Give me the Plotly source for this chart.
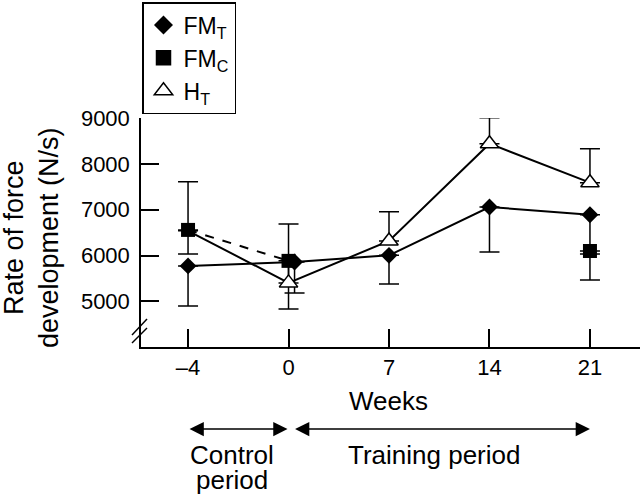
import plotly.graph_objects as go

# ---- data ----
weeks = ["\u20134", "0", "7", "14", "21"]
fm_t = [5775, 5860, 6005, 7060, 6890]
fm_t_err_minus = [875, 675, 625, 980, 855]
fm_c = [6560, 5885, None, None, 6100]
fm_c_err_minus = [525, 1050, None, None, 630]
h_t = [6540, 5405, 6320, 8440, 7590]
h_t_err_plus = [1070, 1285, 635, 565, 740]
y_ticks = [5000, 6000, 7000, 8000, 9000]
legend_names = ["FM<sub>T</sub>", "FM<sub>C</sub>", "H<sub>T</sub>"]

# ---- style / positions ----
FONT = "Liberation Sans, Arial, Helvetica, sans-serif"
pos = list(range(len(weeks)))
fm_t_dx = [0, 0.06, 0, 0, 0]          # small horizontal offset of FM_T at week 0
fm_t_pos = [p + d for p, d in zip(pos, fm_t_dx)]

W, H = 640, 496
L, R, T, B = 141, 0, 118, 149
pw, ph = W - L - R, H - T - B

def px(xp):
    return (xp - L) / pw

def py(yp):
    return (H - B - yp) / ph

fig = go.Figure()

# FM_C (dashed)
fig.add_trace(go.Scatter(
    x=pos, y=fm_c, mode="lines+markers", showlegend=False,
    line=dict(color="black", width=2, dash="dash"),
    marker=dict(symbol="square", size=14, color="black"),
    error_y=dict(type="data", symmetric=False,
                 array=[0] * len(fm_c),
                 arrayminus=fm_c_err_minus, color="black", thickness=1.5, width=10),
))
# FM_T
fig.add_trace(go.Scatter(
    x=fm_t_pos, y=fm_t, mode="lines+markers", showlegend=False,
    line=dict(color="black", width=2),
    marker=dict(symbol="diamond", size=13, color="black"),
    error_y=dict(type="data", symmetric=False, array=[0] * len(fm_t),
                 arrayminus=fm_t_err_minus, color="black", thickness=1.5, width=10),
))
# H_T
fig.add_trace(go.Scatter(
    x=pos, y=h_t, mode="lines+markers", showlegend=False,
    line=dict(color="black", width=2),
    marker=dict(symbol="triangle-up", size=[0, 16, 16, 16, 16], color="#ffffff",
                opacity=1, line=dict(color="black", width=1.5)),
    error_y=dict(type="data", symmetric=False, array=h_t_err_plus,
                 arrayminus=[0] * len(h_t), color="black", thickness=1.5, width=10),
))

# legend-only traces
for name, sym, size, col in zip(legend_names,
                                ["diamond", "square", "triangle-up"],
                                [13, 14, 16],
                                ["black", "black", "#ffffff"]):
    fig.add_trace(go.Scatter(
        x=[None], y=[None], mode="markers", name=name,
        marker=dict(symbol=sym, size=size, color=col, opacity=1,
                    line=dict(color="black", width=1.5)),
    ))

shapes = [
    dict(type="line", xref="paper", yref="paper",
         x0=px(132), y0=py(335), x1=px(147), y1=py(319), line=dict(color="black", width=1.5)),
    dict(type="line", xref="paper", yref="paper",
         x0=px(132), y0=py(343), x1=px(147), y1=py(328), line=dict(color="black", width=1.5)),
]

TXT = dict(size=27, family=FONT, color="black")
TXT2 = dict(size=26, family=FONT, color="black")
annotations = [
    dict(text="Rate of force<br>development (N/s)", xref="paper", yref="paper",
         x=px(31), y=py(238), xanchor="center", yanchor="middle", textangle=-90,
         showarrow=False, font=TXT),
    dict(text="Weeks", xref="paper", yref="paper", x=px(388), y=py(401),
         xanchor="center", yanchor="middle", showarrow=False, font=TXT2),
    dict(text="Control", xref="paper", yref="paper", x=px(232), y=py(455),
         xanchor="center", yanchor="middle", showarrow=False, font=TXT2, height=24),
    dict(text="period", xref="paper", yref="paper", x=px(232), y=py(480),
         xanchor="center", yanchor="middle", showarrow=False, font=TXT2, height=28),
    dict(text="Training period", xref="paper", yref="paper", x=px(434), y=py(455),
         xanchor="center", yanchor="middle", showarrow=False, font=TXT2),
    # period arrows
    dict(text="", xref="x", yref="paper", axref="x", ayref="pixel",
         x=pos[1] - 0.01, y=py(429), ax=pos[0], ay=0, showarrow=True,
         arrowside="end+start", arrowhead=2, startarrowhead=2,
         arrowsize=1.9, startarrowsize=1.9, arrowwidth=1.5, arrowcolor="black"),
    dict(text="", xref="x", yref="paper", axref="x", ayref="pixel",
         x=pos[4], y=py(429), ax=pos[1] + 0.05, ay=0, showarrow=True,
         arrowside="end+start", arrowhead=2, startarrowhead=2,
         arrowsize=1.9, startarrowsize=1.9, arrowwidth=1.5, arrowcolor="black"),
]

fig.update_layout(
    width=W, height=H,
    margin=dict(l=L, r=R, t=T, b=B, pad=0, autoexpand=False),
    paper_bgcolor="white", plot_bgcolor="white",
    font=dict(family=FONT, size=22, color="black"),
    showlegend=True,
    legend=dict(x=px(142), y=py(2), xanchor="left", yanchor="top",
                bordercolor="black", borderwidth=1.5, bgcolor="white",
                font=dict(size=23, family=FONT, color="black"),
                itemwidth=30, tracegroupgap=0),
    xaxis=dict(range=[(L - 188) / 100.4, 4 + (640 - 590) / 100.4],
               tickvals=pos, ticktext=weeks, ticks="inside", ticklen=18,
               tickwidth=1.5, tickcolor="black", showline=True, linecolor="black",
               linewidth=1.5, showgrid=False, zeroline=False, automargin=False,
               tickfont=dict(size=22, family=FONT, color="black")),
    yaxis=dict(range=[4007, 9000], tickvals=y_ticks, ticks="inside", ticklen=18,
               tickwidth=1.5, tickcolor="black", showline=True, linecolor="black",
               linewidth=1.5, showgrid=False, zeroline=False, automargin=False,
               ticklabelstandoff=5,
               tickfont=dict(size=22, family=FONT, color="black")),
    shapes=shapes, annotations=annotations,
)

fig.write_html("out.html", config={"displayModeBar": False},
               post_script="document.body.style.margin='0';document.body.style.overflow='hidden';")
